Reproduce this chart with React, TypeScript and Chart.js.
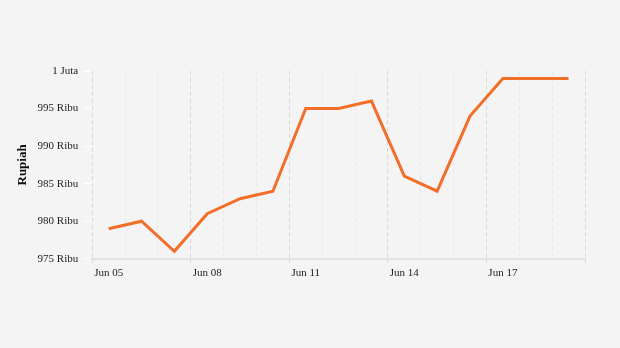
import React, { useEffect, useRef } from "react";
import { Chart, registerables } from "chart.js";

Chart.register(...registerables);

const categories = [
  "Jun 05", "Jun 06", "Jun 07", "Jun 08", "Jun 09", "Jun 10", "Jun 11", "Jun 12",
  "Jun 13", "Jun 14", "Jun 15", "Jun 16", "Jun 17", "Jun 18", "Jun 19",
];
const prices = [
  979000, 980000, 976000, 981000, 983000, 984000, 995000, 995000,
  996000, 986000, 984000, 994000, 999000, 999000, 999000,
];
const yMin = 975000;
const yMax = 1000000;
const yStep = 5000;
const yTitle = "Rupiah";

function formatRupiah(v: number): string {
  if (v >= 1000000) return v / 1000000 + " Juta";
  return v / 1000 + " Ribu";
}

export default function App() {
  const ref = useRef<HTMLCanvasElement | null>(null);
  useEffect(() => {
    document.body.style.margin = "0";
    document.body.style.background = "#f4f4f4";
    const canvas = ref.current;
    if (!canvas) return;
    const font = "'Liberation Serif', 'Times New Roman', serif";
    const chart = new Chart(canvas, {
      type: "line",
      data: {
        labels: categories,
        datasets: [
          {
            data: prices,
            borderColor: "#f26f2a",
            borderWidth: 3,
            pointRadius: 0,
            tension: 0,
            fill: false,
          },
        ],
      },
      options: {
        animation: false,
        responsive: false,
        maintainAspectRatio: false,
        layout: { padding: { top: 71, right: 35, bottom: 64, left: 15 } },
        plugins: { legend: { display: false }, tooltip: { enabled: false } },
        scales: {
          x: {
            offset: true,
            grid: {
              offset: true,
              drawTicks: true,
              tickLength: 4,
              lineWidth: 1,
              color: (ctx: any) =>
                ctx.index === undefined || ctx.index % 3 === 0 ? "#d8d8d8" : "#e8e8e8",
              tickColor: (ctx: any) =>
                ctx.index === undefined || ctx.index % 3 === 0 ? "#d8d8d8" : "rgba(0,0,0,0)",
              tickBorderDash: [],
            },
            border: { display: true, color: "#e2e2e2", width: 2, dash: [4, 3] },
            ticks: {
              autoSkip: false,
              maxRotation: 0,
              padding: 4,
              color: "#222",
              font: { family: font, size: 11 },
              callback: (_v: any, i: number) => (i % 3 === 0 ? categories[i] : ""),
            },
          } as any,
          y: {
            min: yMin,
            max: yMax,
            grid: {
              drawOnChartArea: false,
              drawTicks: true,
              tickLength: 8,
              color: "#ffffff",
              tickColor: "#ffffff",
            },
            border: { display: false },
            ticks: {
              stepSize: yStep,
              padding: 6,
              color: "#222",
              font: { family: font, size: 11 },
              callback: (v: any) => formatRupiah(Number(v)),
            },
            title: {
              display: true,
              text: yTitle,
              color: "#111",
              font: { family: font, size: 13, weight: "bold" },
              padding: { top: 0, bottom: 1 },
            },
          },
        },
      },
    } as any);
    return () => chart.destroy();
  }, []);
  return <canvas ref={ref} width={620} height={348} style={{ display: "block" }} />;
}
